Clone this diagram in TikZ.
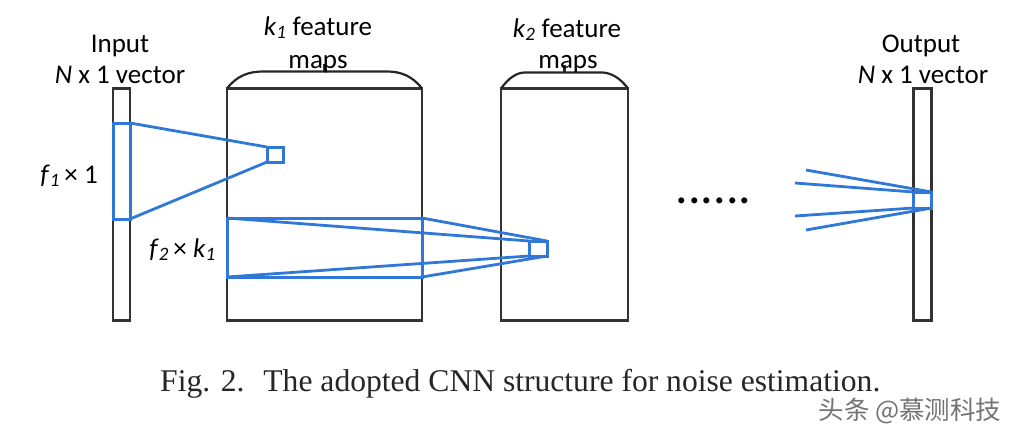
\documentclass[tikz,border=0pt]{standalone}
\usepackage{fontspec}
\setmainfont{Carlito}
\newfontfamily\capfont{Liberation Serif}
\newfontfamily\cjkfont{Noto Sans CJK SC}
\usepackage{tikz}
\usetikzlibrary{positioning,calc}

\begin{document}
\begin{tikzpicture}[x=1pt,y=-1pt,font=\fontsize{27}{32}\selectfont,
 layer/.style={draw=black!80,line width=2.2pt,inner sep=0pt,outer sep=0pt,minimum width=#1,minimum height=232pt},
 rf/.style={draw=cnnblue,line width=3pt,inner sep=0pt,outer sep=0pt},
 link/.style={draw=cnnblue,line width=2.8pt},
 lid/.style={draw=black!85,line width=2.2pt},
 lbl/.style={anchor=base,inner sep=0pt}]
\definecolor{cnnblue}{HTML}{2F78D8}
\useasboundingbox (0,0) rectangle (1016,434);
% layers: input vector, two stacks of feature maps, output vector
\node[layer=17pt] (in) at (121.5,204.5) {};
\node[layer=195pt] (k1) at (324.5,204.5) {};
\node[layer=127pt] (k2) at (564.5,204.5) {};
\node[layer=18pt] (out) at (922.5,204.5) {};
% lids of the feature-map stacks
\draw[lid] (k1.north west) .. controls ($(k1.north west)+(10,-13)$) and ($(k1.north west)+(22,-17)$) .. ($(k1.north west)+(36,-17)$)
 -- ($(k1.north east)+(-35,-17)$) .. controls ($(k1.north east)+(-22,-17)$) and ($(k1.north east)+(-10,-13)$) .. (k1.north east);
\draw[lid] ($(k1.north)+(0,-17)$) -- ++(0,-8);
\draw[lid] (k2.north west) .. controls ($(k2.north west)+(8,-11)$) and ($(k2.north west)+(16,-16)$) .. ($(k2.north west)+(24,-16)$)
 -- ($(k2.north east)+(-26,-16)$) .. controls ($(k2.north east)+(-18,-16)$) and ($(k2.north east)+(-8,-11)$) .. (k2.north east);
\draw[lid] ($(k2.north)+(0,-16)$) -- ++(0,-8);
% receptive fields
\node[rf,minimum width=17pt,minimum height=96pt] (rf1) at (121.5,171) {};
\node[rf,minimum width=16pt,minimum height=15pt] (sq1) at (275,154.5) {};
\draw[link] (rf1.north east) -- (sq1.north west);
\draw[link] (rf1.south east) -- (sq1.south west);
\node[rf,minimum width=195pt,minimum height=59pt] (rf2) at (324.5,247.5) {};
\node[rf,minimum width=18pt,minimum height=15pt] (sq2) at (538,248.5) {};
\draw[link] (rf2.north west) -- (sq2.north west);
\draw[link] (rf2.north east) -- (sq2.north east);
\draw[link] (rf2.south west) -- (sq2.south west);
\draw[link] (rf2.south east) -- (sq2.south east);
\node[rf,minimum width=18pt,minimum height=16pt] (sq3) at (922.5,200) {};
\coordinate (fa) at (806,170);
\coordinate (fb) at (795,183);
\coordinate (fc) at (795,216);
\coordinate (fd) at (806,230);
\draw[link] (fa) -- (sq3.north east);
\draw[link] (fb) -- (sq3.north west);
\draw[link] (fc) -- (sq3.south west);
\draw[link] (fd) -- (sq3.south east);
\node[lbl,font=\fontsize{50}{50}\selectfont] (dots) at (713.5,203) {......};
% labels
\node[lbl] (inlbl) at (120,52) {Input};
\node[lbl] (invec) at (120,83) {\textit{N} x 1 vector};
\node[lbl] (k1lbl) at (318,35) {\textit{k}\textsubscript{\textit{1}} feature};
\node[lbl] (k1map) at (318,68) {maps};
\node[lbl] (k2lbl) at (567,37) {\textit{k}\textsubscript{\textit{2}} feature};
\node[lbl] (k2map) at (568,68) {maps};
\node[lbl] (outlbl) at (921,52) {Output};
\node[lbl] (outvec) at (923,83) {\textit{N} x 1 vector};
\node[lbl] (f1lbl) at (69,183) {\textit{f}\textsubscript{\textit{1}}\,× 1};
\node[lbl] (f2lbl) at (182.5,257) {\textit{f}\textsubscript{\textit{2}}\,× \textit{k}\textsubscript{\textit{1}}};
% caption and watermark
\node[lbl,anchor=base west,font=\capfont\fontsize{31.6}{35}\selectfont,text=black!85] (cap) at (160,391)
 {Fig. 2.\hspace{0.6em}The adopted CNN structure for noise estimation.};
\node[lbl,font=\cjkfont\fontsize{25.5}{28}\selectfont,text=black!55] (mark) at (910,419) {头条 @慕测科技};
\end{tikzpicture}
\end{document}
